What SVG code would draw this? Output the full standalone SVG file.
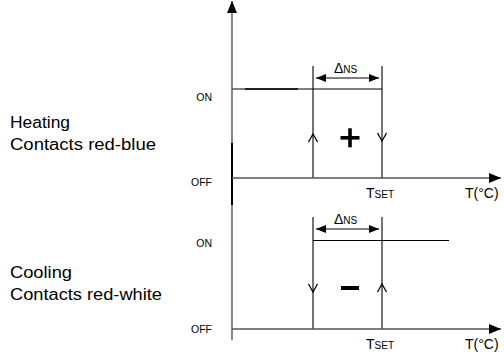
<svg xmlns="http://www.w3.org/2000/svg" width="504" height="356" viewBox="0 0 504 356">
<defs>
<marker id="axh" viewBox="0 0 12 10" refX="12" refY="5" markerWidth="12" markerHeight="10" markerUnits="userSpaceOnUse" orient="auto"><path d="M0,0 L12,5 L0,10 Z" fill="#000"/></marker>
<marker id="dh" viewBox="0 0 10 8" refX="10" refY="4" markerWidth="10" markerHeight="8" markerUnits="userSpaceOnUse" orient="auto-start-reverse"><path d="M0,0 L10,4 L0,8 Z" fill="#000"/></marker>
</defs>
<style>
text{font-family:"Liberation Sans",Arial,sans-serif;fill:#000}
.lbl{font-size:16px}
.st{font-size:10.5px}
.ax{stroke:#555;stroke-width:1.4;fill:none}
.ln{stroke:#000;stroke-width:1.1;fill:none}
.chev{stroke:#000;stroke-width:1.3;fill:none}
.big{font-size:14px}
.sub{font-size:10px}
</style>
<g id="labels">
<text class="lbl" x="10" y="128" textLength="60" lengthAdjust="spacingAndGlyphs">Heating</text>
<text class="lbl" x="10" y="150" textLength="146" lengthAdjust="spacingAndGlyphs">Contacts red-blue</text>
<text class="lbl" x="10" y="278" textLength="62" lengthAdjust="spacingAndGlyphs">Cooling</text>
<text class="lbl" x="10" y="300" textLength="152" lengthAdjust="spacingAndGlyphs">Contacts red-white</text>
</g>
<g id="heating">
<text class="st" x="212" y="101" text-anchor="end">ON</text>
<text class="st" x="212" y="186" text-anchor="end">OFF</text>
<line class="ln" x1="232" y1="89" x2="382" y2="89"/>
<line x1="245" y1="89" x2="298" y2="89" stroke="#000" stroke-width="1.6"/>
<line class="ln" x1="313" y1="66" x2="313" y2="178"/>
<line class="ln" x1="382" y1="66" x2="382" y2="178"/>
<line class="ln" x1="316" y1="78" x2="379" y2="78" marker-start="url(#dh)" marker-end="url(#dh)"/>
<text class="big" x="334" y="73">Δ<tspan class="sub">NS</tspan></text>
<path class="chev" d="M308.5,142 L313,134 L317.5,142"/>
<path class="chev" d="M377.5,133 L382,141 L386.5,133"/>
<rect x="340.5" y="136" width="19" height="3.6" fill="#000"/>
<rect x="348.2" y="128.3" width="3.6" height="19" fill="#000"/>
<text class="big" x="366" y="198">T<tspan class="sub">SET</tspan></text>
<text class="big" x="465" y="198">T(°C)</text>
</g>
<g id="cooling">
<text class="st" x="212" y="247" text-anchor="end">ON</text>
<text class="st" x="212" y="333" text-anchor="end">OFF</text>
<line class="ln" x1="313" y1="240.5" x2="449" y2="240.5"/>
<line class="ln" x1="313" y1="217" x2="313" y2="329"/>
<line class="ln" x1="382" y1="217" x2="382" y2="329"/>
<line class="ln" x1="316" y1="229" x2="379" y2="229" marker-start="url(#dh)" marker-end="url(#dh)"/>
<text class="big" x="334" y="224">Δ<tspan class="sub">NS</tspan></text>
<path class="chev" d="M308.5,284 L313,292 L317.5,284"/>
<path class="chev" d="M377.5,292 L382,284 L386.5,292"/>
<rect x="341" y="286" width="18" height="4" fill="#000"/>
<text class="big" x="366" y="349">T<tspan class="sub">SET</tspan></text>
<text class="big" x="465" y="349">T(°C)</text>
</g>
<g id="connectors">
<line class="ax" x1="232" y1="340" x2="232" y2="1" marker-end="url(#axh)"/>
<line x1="232" y1="143" x2="232" y2="205" stroke="#000" stroke-width="2"/>
<line class="ax" x1="232" y1="178" x2="501" y2="178" marker-end="url(#axh)"/>
<line class="ax" x1="232" y1="329" x2="501" y2="329" marker-end="url(#axh)"/>
</g>
</svg>
